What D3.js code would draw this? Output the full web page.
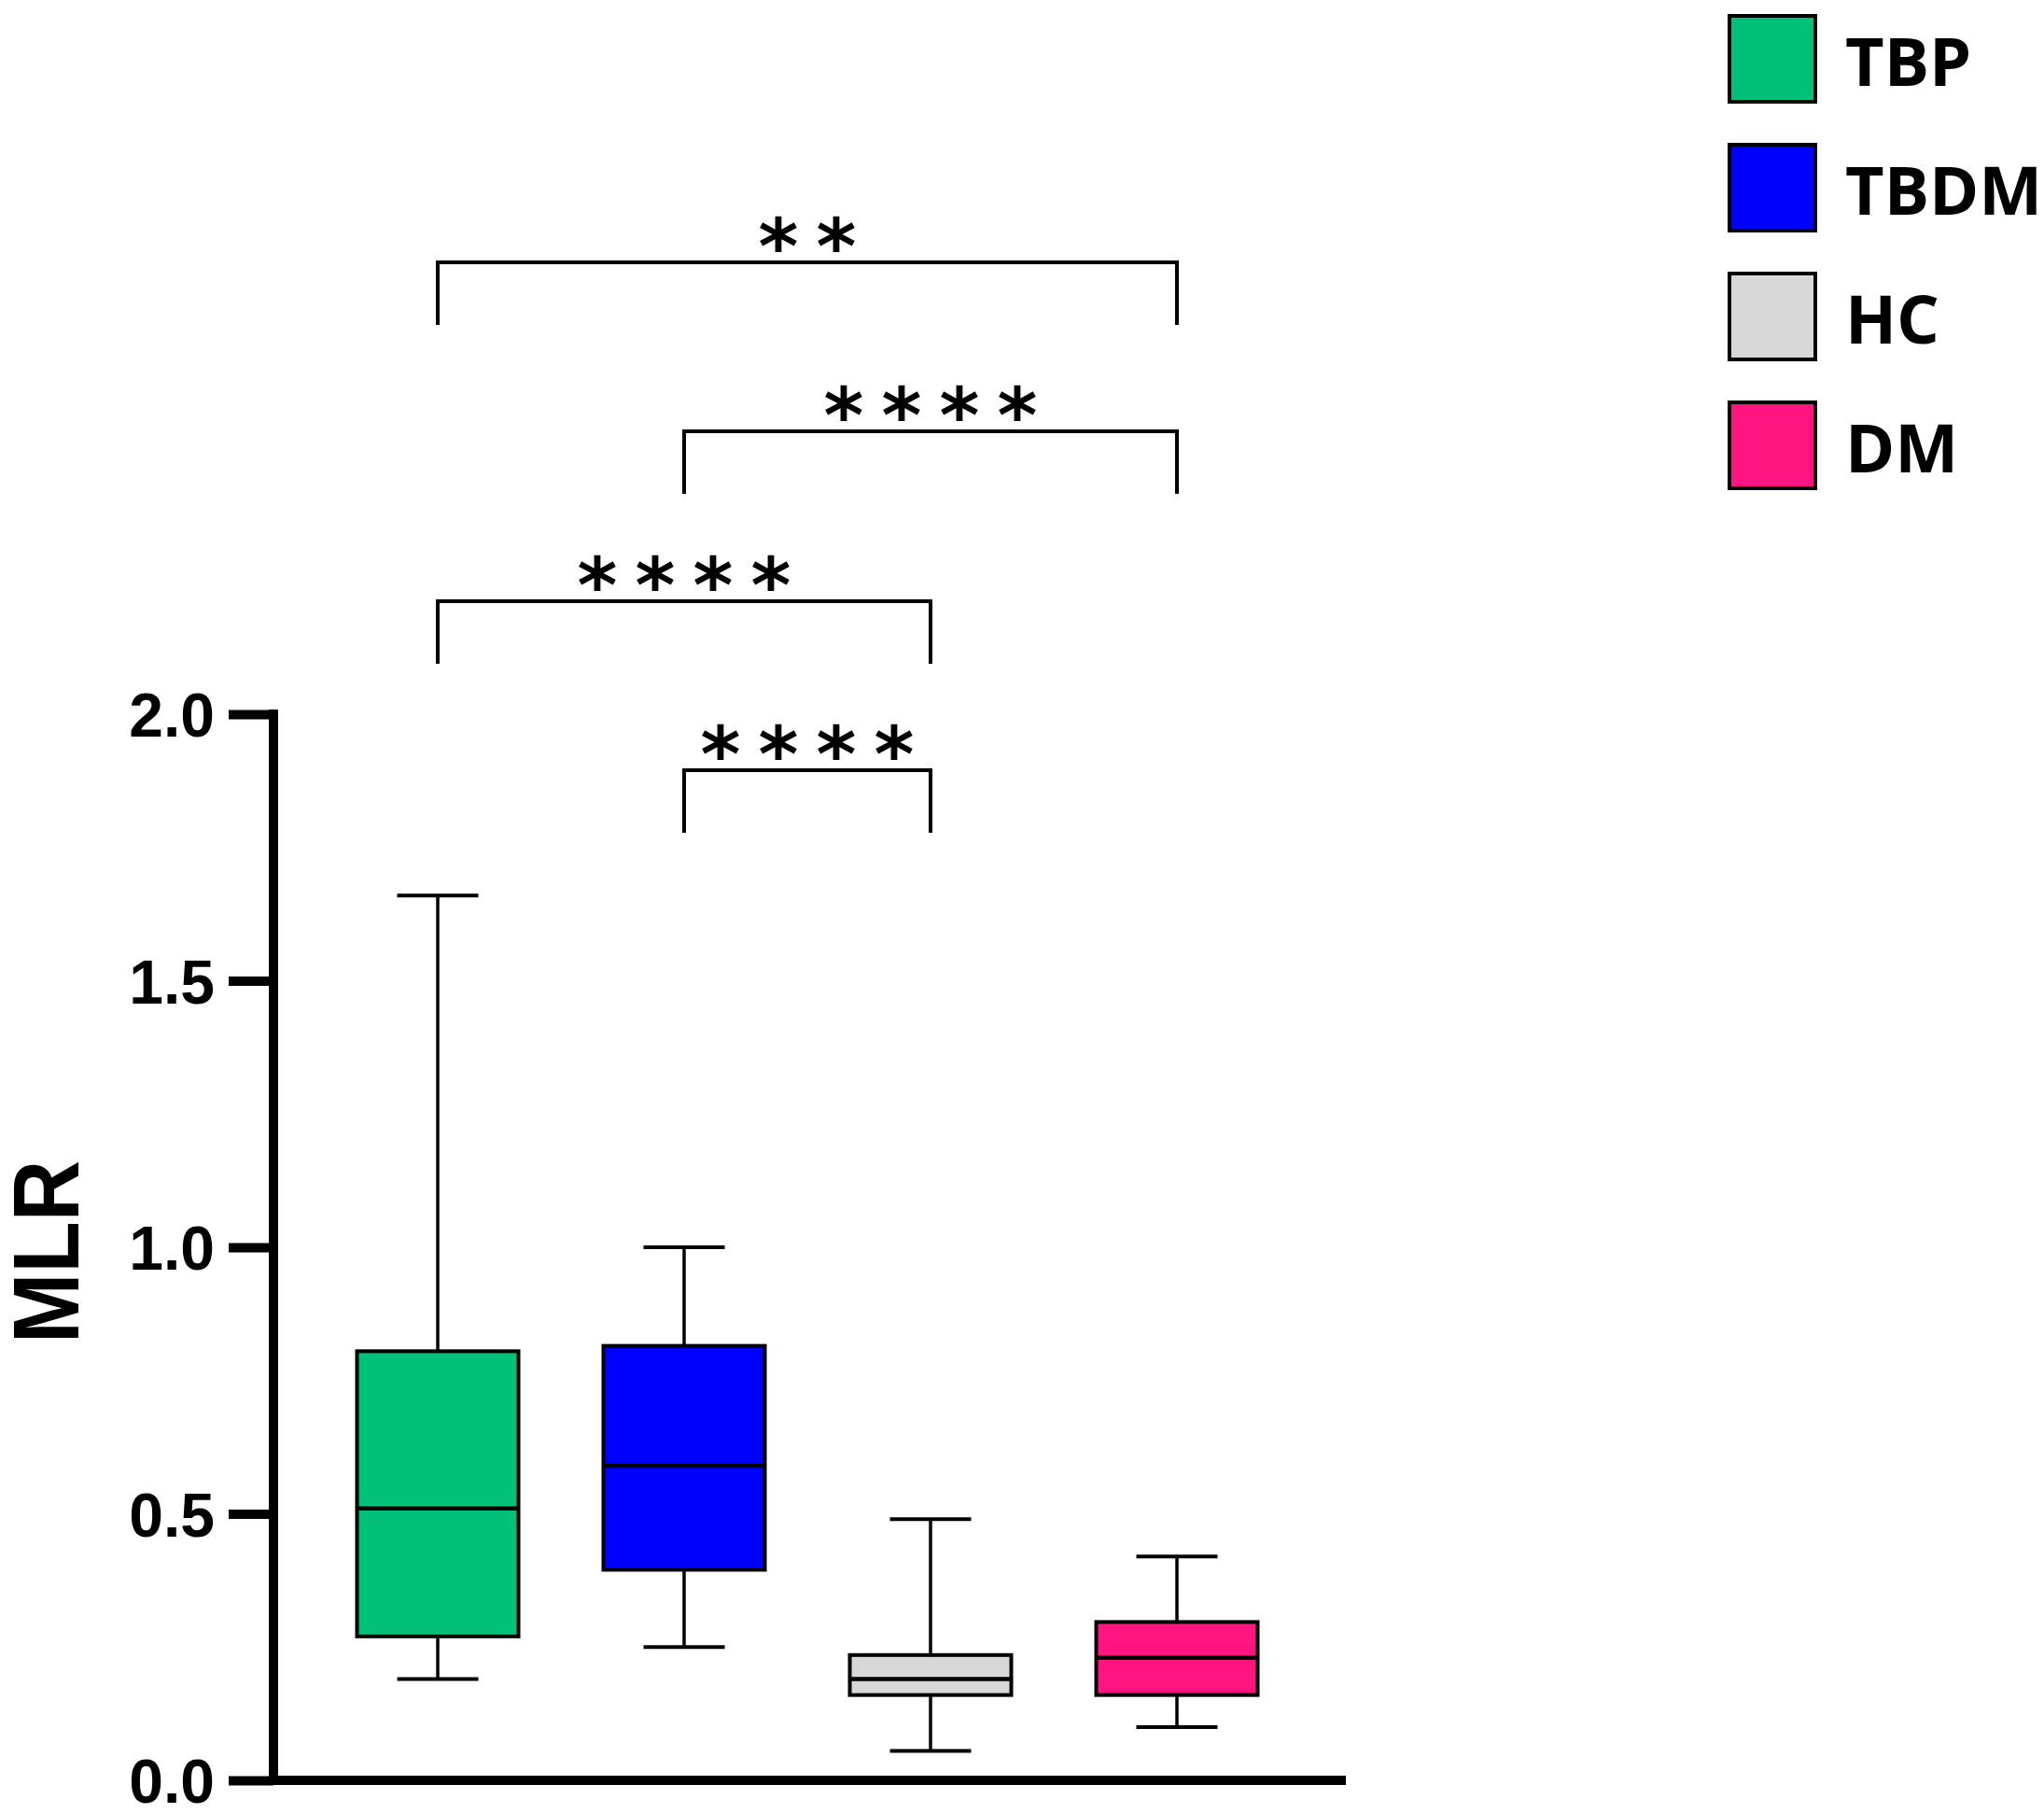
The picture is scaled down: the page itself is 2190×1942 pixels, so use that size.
<!DOCTYPE html>
<html>
<head>
<meta charset="utf-8">
<script src="https://cdn.jsdelivr.net/npm/d3@7"></script>
<style>
  html, body { margin: 0; padding: 0; background: #fff; }
  svg { display: block; }
</style>
</head>
<body>
<svg id="chart" width="2190" height="1942"></svg>
<script>
// ---- data ----
const categories = ["TBP", "TBDM", "HC", "DM"];
const colors = ["#00C07A", "#0000FF", "#D7D7D7", "#FF1480"];
const whiskerLow  = [0.19, 0.25, 0.055, 0.10];
const q1Values    = [0.27, 0.395, 0.16, 0.16];
const medians     = [0.51, 0.59, 0.19, 0.23];
const q3Values    = [0.805, 0.815, 0.235, 0.297];
const whiskerHigh = [1.66, 1.0, 0.49, 0.42];
const yTicks = [0, 0.5, 1.0, 1.5, 2.0];
const yTickLabels = ["0.0", "0.5", "1.0", "1.5", "2.0"];
const yLabel = "MLR";
const compFrom   = ["TBP", "TBDM", "TBP", "TBDM"];
const compTo     = ["DM", "DM", "HC", "HC"];
const compLabels = ["**", "****", "****", "****"];

// ---- layout ----
const svg = d3.select("#chart");
const axisX = 293, axisBottom = 1907, axisTop = 765, axisRight = 1442;
const y = d3.scaleLinear().domain([0, 2]).range([axisBottom, axisTop]);
const x = d3.scalePoint().domain(categories).range([469, 1261]);
const boxW = 173, capW = 87;
const bracketTops = [281, 462, 644, 825];
const legLen = 67;

// boxes
const boxes = categories.map((c, i) => ({
  cat: c, color: colors[i], lo: whiskerLow[i], q1: q1Values[i],
  med: medians[i], q3: q3Values[i], hi: whiskerHigh[i]
}));
const g = svg.append("g");
const bx = g.selectAll("g.box").data(boxes).join("g").attr("class", "box");
bx.append("line").attr("x1", d => x(d.cat)).attr("x2", d => x(d.cat))
  .attr("y1", d => y(d.hi)).attr("y2", d => y(d.q3))
  .attr("stroke", "#000").attr("stroke-width", 3.5);
bx.append("line").attr("x1", d => x(d.cat)).attr("x2", d => x(d.cat))
  .attr("y1", d => y(d.q1)).attr("y2", d => y(d.lo))
  .attr("stroke", "#000").attr("stroke-width", 3.5);
bx.append("line").attr("x1", d => x(d.cat) - capW / 2).attr("x2", d => x(d.cat) + capW / 2)
  .attr("y1", d => y(d.hi)).attr("y2", d => y(d.hi))
  .attr("stroke", "#000").attr("stroke-width", 4);
bx.append("line").attr("x1", d => x(d.cat) - capW / 2).attr("x2", d => x(d.cat) + capW / 2)
  .attr("y1", d => y(d.lo)).attr("y2", d => y(d.lo))
  .attr("stroke", "#000").attr("stroke-width", 4);
bx.append("rect").attr("x", d => x(d.cat) - boxW / 2).attr("width", boxW)
  .attr("y", d => y(d.q3)).attr("height", d => y(d.q1) - y(d.q3))
  .attr("fill", d => d.color).attr("stroke", "#000").attr("stroke-width", 4);
bx.append("line").attr("x1", d => x(d.cat) - boxW / 2).attr("x2", d => x(d.cat) + boxW / 2)
  .attr("y1", d => y(d.med)).attr("y2", d => y(d.med))
  .attr("stroke", "#000").attr("stroke-width", 4.5);

// y axis
const yAxis = d3.axisLeft(y).tickValues(yTicks)
  .tickFormat((d, i) => yTickLabels[i]).tickSize(48).tickSizeOuter(0).tickPadding(15);
const ag = svg.append("g").attr("transform", `translate(${axisX},0)`).call(yAxis);
ag.select(".domain").attr("stroke", "#000").attr("stroke-width", 10)
  .attr("d", `M0,${axisTop - 5}V${axisBottom}`);
ag.selectAll(".tick line").attr("stroke", "#000").attr("stroke-width", 10);
ag.selectAll(".tick text").attr("fill", "#000")
  .attr("font-family", "'Liberation Sans', Arial, sans-serif")
  .attr("font-weight", "bold").attr("font-size", 66)
  .attr("dy", "0.36em");
svg.append("line").attr("x1", axisX - 5).attr("x2", axisRight)
  .attr("y1", axisBottom).attr("y2", axisBottom)
  .attr("stroke", "#000").attr("stroke-width", 10);

// y label
svg.append("text").text(yLabel)
  .attr("transform", `translate(84,${1341}) rotate(-90)`)
  .attr("text-anchor", "middle")
  .attr("font-family", "'Liberation Sans', Arial, sans-serif")
  .attr("font-weight", "bold").attr("font-size", 100)
  .attr("textLength", 196).attr("lengthAdjust", "spacingAndGlyphs");

// significance brackets
const comps = compFrom.map((a, i) => ({ a, b: compTo[i], label: compLabels[i], top: bracketTops[i] }));
const bg = svg.append("g");
comps.forEach(c => {
  const x1 = x(c.a), x2 = x(c.b);
  bg.append("path")
    .attr("d", `M${x1},${c.top + legLen}V${c.top}H${x2}V${c.top + legLen}`)
    .attr("fill", "none").attr("stroke", "#000").attr("stroke-width", 4);
  const chars = c.label.split("");
  const n = chars.length, sp = 62, cx = (x1 + x2) / 2;
  bg.selectAll(null).data(chars).join("text").text(s => s)
    .attr("x", (s, k) => cx + (k - (n - 1) / 2) * sp)
    .attr("y", c.top + 12)
    .attr("text-anchor", "middle")
    .attr("font-family", "'DejaVu Sans', sans-serif")
    .attr("font-weight", "bold").attr("font-size", 82);
});

// legend
const lg = svg.append("g");
categories.forEach((c, i) => {
  const yy = 17 + i * 138;
  lg.append("rect").attr("x", 1853).attr("y", yy).attr("width", 92).attr("height", 92)
    .attr("fill", colors[i]).attr("stroke", "#000").attr("stroke-width", 4);
  lg.append("text").text(c).attr("x", 1977).attr("y", yy + 46 + 29)
    .attr("font-family", "'Open Sans', sans-serif").attr("font-weight", 700)
    .attr("font-size", 72).attr("fill", "#000");
});
</script>
</body>
</html>
